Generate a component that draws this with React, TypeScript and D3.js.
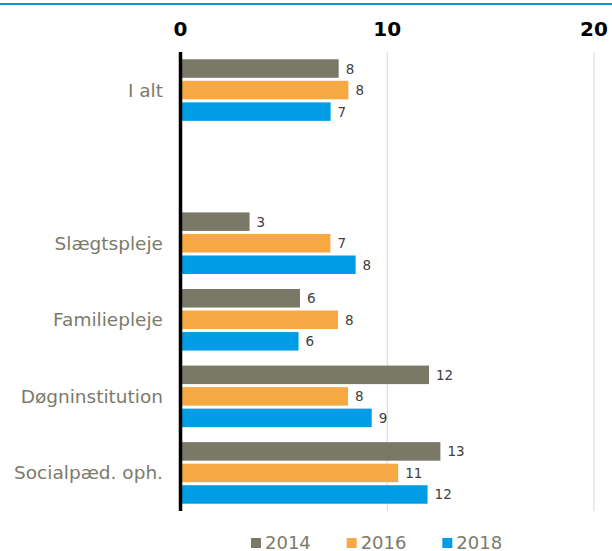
import * as d3 from 'd3'

const categories = ['I alt', '', 'Slægtspleje', 'Familiepleje', 'Døgninstitution', 'Socialpæd. oph.']
const years = ['2014', '2016', '2018']
const values2014 = [7.65, null, 3.34, 5.78, 12.02, 12.57]
const values2016 = [8.12, null, 7.25, 7.62, 8.1, 10.53]
const values2018 = [7.26, null, 8.47, 5.71, 9.25, 11.95]
const xTicks = [0, 10, 20]

const colors = ['#7a7866', '#f6a843', '#009de6']
const series = [values2014, values2016, values2018]

export default function App() {
  const width = 612
  const height = 551

  const x = d3.scaleLinear().domain([0, 20]).range([180.5, 594])
  const y = d3
    .scaleBand()
    .domain(categories)
    .range([52, 511])
    .paddingInner(0.196)
    .paddingOuter(0.095)
  const inner = d3.scaleBand().domain(years).range([0, y.bandwidth()]).paddingInner(0.14)
  const legendX = d3.scaleBand().domain(years).range([251, 538])

  const font = '"DejaVu Sans", Verdana, sans-serif'

  return (
    <svg
      width={width}
      height={height}
      style={{ position: 'absolute', left: 0, top: 0, background: '#fff' }}
      fontFamily={font}
    >
      <line x1={0} x2={width} y1={4} y2={4} stroke="#0d96de" strokeWidth={2} />

      {xTicks.map((t) => (
        <g key={t}>
          {t > 0 && <line x1={x(t)} x2={x(t)} y1={52} y2={511} stroke="#d9d9d9" strokeWidth={1} />}
          <text x={x(t)} y={36} textAnchor="middle" fontWeight="bold" fontSize={20} fill="#000">
            {t}
          </text>
        </g>
      ))}

      {categories.map((c, i) => (
        <g key={'c' + i} transform={`translate(0,${y(c)})`}>
          {c && (
            <text
              x={163}
              y={y.bandwidth() / 2}
              textAnchor="end"
              dominantBaseline="central"
              fontSize={18.5}
              fill="#7b7b6b"
            >
              {c}
            </text>
          )}
          {series.map((vals, s) => {
            const v = vals[i]
            if (v == null) return null
            const yy = inner(years[s]) || 0
            return (
              <g key={years[s]}>
                <rect x={x(0)} y={yy} width={x(v) - x(0)} height={inner.bandwidth()} fill={colors[s]} />
                <text
                  x={x(v) + 7}
                  y={yy + inner.bandwidth() / 2}
                  dominantBaseline="central"
                  fontSize={13.5}
                  fill="#404040"
                >
                  {Math.round(v)}
                </text>
              </g>
            )
          })}
        </g>
      ))}

      <line x1={180.5} x2={180.5} y1={52} y2={511} stroke="#000" strokeWidth={3.5} />

      {years.map((yr, s) => (
        <g key={yr} transform={`translate(${legendX(yr)},0)`}>
          <rect x={0} y={538} width={10} height={10} fill={colors[s]} />
          <text x={14} y={548.5} fontSize={18} fill="#7b7b6b">
            {yr}
          </text>
        </g>
      ))}
    </svg>
  )
}
